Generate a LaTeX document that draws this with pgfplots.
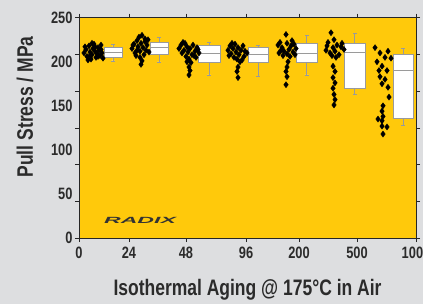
\documentclass[border=0pt]{standalone}
\usepackage{fontspec}
\setmainfont{Liberation Sans}[FakeStretch=0.78]
\usepackage{pgfplots}
\pgfplotsset{compat=1.18}
\usepgfplotslibrary{statistics}
\definecolor{bggray}{HTML}{DDDEE0}
\definecolor{plotyellow}{HTML}{FFC90B}
\definecolor{txtdark}{HTML}{2B2B2B}
\definecolor{boxgray}{HTML}{9A9A9A}

\pgfplotsset{
  mybox/.style={solid, draw=boxgray, fill=white, line width=0.5bp, mark=none},
}

\begin{document}
\begin{tikzpicture}
\useasboundingbox (-79bp,-66bp) rectangle (344bp,238bp);
\fill[bggray] (-79bp,-66bp) rectangle (344bp,238bp);
\begin{axis}[
  scale only axis,
  width=337bp, height=220.3bp,
  xmin=0, xmax=337, ymin=0, ymax=250,
  axis background/.style={fill=plotyellow},
  axis line style={draw=black!85, line width=0.8bp},
  tick align=outside,
  major tick length=4bp,
  tick style={draw=black!85, line width=0.6bp},
  xtick={0,50,107,167,220,278,337},
  xticklabels={0,24,48,96,200,500,1000},
  ytick={0,41.667,83.333,125,166.667,208.333,250},
  yticklabels={},
  extra y ticks={0,50,100,150,200,250},
  extra y tick labels={0,50,100,150,200,250},
  extra y tick style={major tick length=0pt, tick style={draw=none}},
  /pgf/number format/assume math mode=true,
  tick label style={font=\bfseries\fontsize{16.5}{16.5}\selectfont, text=txtdark},
  yticklabel style={xshift=-3bp},
  xticklabel style={yshift=-2bp},
  xlabel={Isothermal Aging @ 175°C in Air},
  ylabel={Pull Stress / MPa},
  label style={font=\bfseries\fontsize{22.5}{22.5}\selectfont, text=txtdark},
  xlabel style={at={(axis description cs:0.5,0)}, anchor=center, yshift=-52bp},
  ylabel style={at={(axis description cs:0,0.595)}, anchor=center, yshift=54bp},
  boxplot/draw direction=y,
  clip=false,
]
% box plots
\addplot[mybox, boxplot prepared={draw position=34, box extend=18, lower whisker=201, lower quartile=205, median=210.5, upper quartile=216, upper whisker=220, whisker extend=4}] coordinates {};
\addplot[mybox, boxplot prepared={draw position=80, box extend=18, lower whisker=200, lower quartile=208, median=217, upper quartile=222, upper whisker=228, whisker extend=4}] coordinates {};
\addplot[mybox, boxplot prepared={draw position=130, box extend=22, lower whisker=185, lower quartile=200, median=210, upper quartile=219, upper whisker=222, whisker extend=4}] coordinates {};
\addplot[mybox, boxplot prepared={draw position=179, box extend=20, lower whisker=183, lower quartile=200, median=208, upper quartile=216, upper whisker=219, whisker extend=4}] coordinates {};
\addplot[mybox, boxplot prepared={draw position=227.5, box extend=21, lower whisker=185, lower quartile=200, median=210, upper quartile=221, upper whisker=230, whisker extend=4}] coordinates {};
\addplot[mybox, boxplot prepared={draw position=275.5, box extend=21, lower whisker=163, lower quartile=170, median=211, upper quartile=221, upper whisker=232, whisker extend=4}] coordinates {};
\addplot[mybox, boxplot prepared={draw position=324, box extend=20, lower whisker=128, lower quartile=136, median=190, upper quartile=209, upper whisker=215, whisker extend=4}] coordinates {};
% scatter points
\addplot[only marks, mark=diamond*, mark size=3bp, black] coordinates {
(5,210)(7,214)(8,206)(10,218)(11,211)(12,203)(13,208)(14,215)(15,220)(16,212)(17,205)(18,209)(19,216)(20,213)(21,207)(22,219)(23,210)(24,204)(9,202)(6,217)(13,221)(19,206)(16,217)(11,207)(22,214)
(53,215)(55,220)(56,210)(58,224)(59,217)(60,228)(61,212)(62,221)(63,230)(64,216)(65,208)(66,223)(67,213)(68,219)(70,211)(69,225)(57,207)(61,205)(63,201)(62,197)(66,226)(58,213)(54,219)
(100,215)(102,219)(103,210)(105,213)(106,221)(107,206)(108,217)(109,211)(110,203)(111,215)(112,199)(113,208)(114,219)(116,212)(117,205)(118,216)(120,210)(104,222)(110,194)(111,190)(110,185)(115,207)(108,200)(119,214)
(149,213)(151,218)(152,209)(154,215)(155,205)(156,220)(157,211)(158,203)(159,216)(160,208)(161,200)(162,213)(164,218)(165,206)(166,212)(168,210)(153,221)(159,194)(158,189)(159,182)(163,202)(150,207)
(207,231)(208,221)(199,219)(203,216)(205,212)(210,214)(212,218)(215,220)(217,215)(200,210)(204,207)(208,209)(211,206)(214,211)(216,208)(202,213)(209,200)(208,194)(207,189)(208,183)(207,174)(213,224)(201,222)
(252,233)(249,222)(255,225)(258,219)(262,217)(265,214)(247,213)(251,210)(256,212)(260,208)(254,216)(263,221)(248,218)(253,207)(257,205)(254,195)(256,189)(254,182)(256,176)(254,170)(255,163)(256,157)(255,151)
(301,210)(309,212)(306,205)(298,200)(303,195)(308,190)(301,183)(306,180)(303,175)(309,171)(296,216)(312,204)(304,150)(303,144)(304,138)(299,135)(303,133)(303,127)(308,126)(304,118)(300,190)(310,160)
};
\node[font=\bfseries\itshape\fontsize{9}{9}\selectfont, text=black!80, anchor=center] at (axis cs:61,20.5) {\scalebox{3.3}[1]{RADIX}};
\end{axis}
\end{tikzpicture}
\end{document}
